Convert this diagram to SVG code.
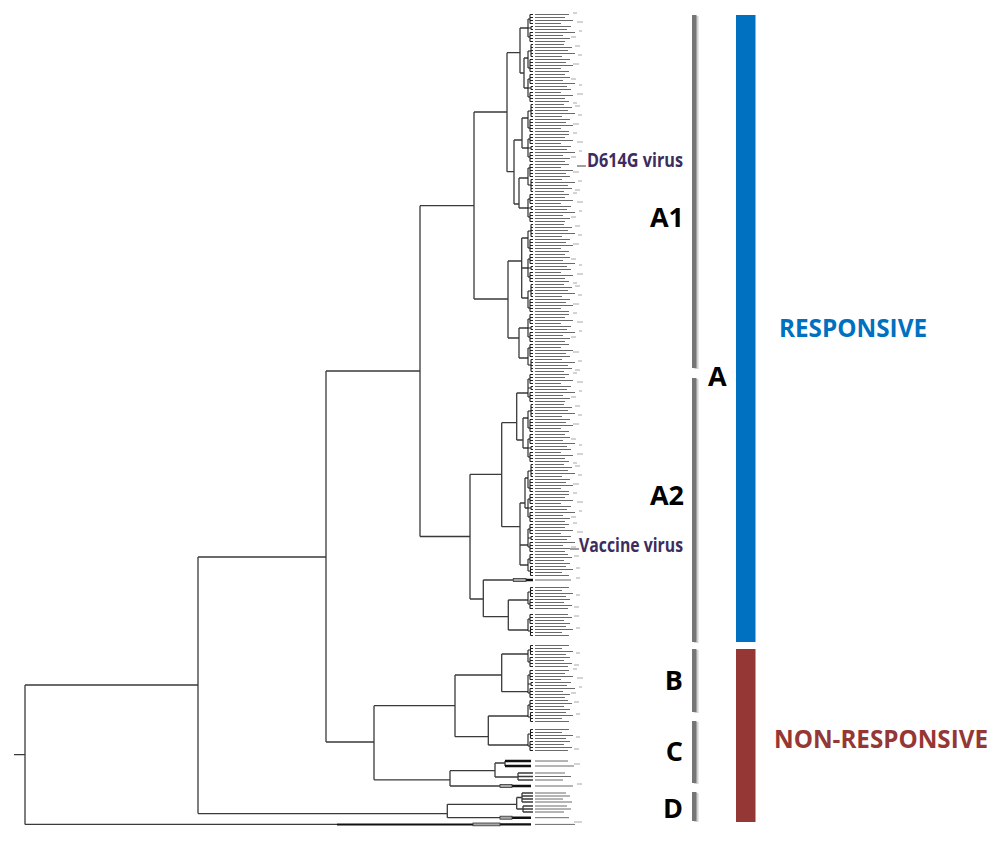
<svg xmlns="http://www.w3.org/2000/svg" width="1000" height="841" viewBox="0 0 1000 841">
<style>
.br{fill:none;stroke:#3a3a3a;stroke-width:1.3}
.tw{fill:none;stroke:#1e1e1e;stroke-width:1.1}
.lb{fill:none;stroke:#6a6a6a;stroke-width:1}
.ld{fill:none;stroke:#3e3e3e;stroke-width:1}
.tg{fill:none;stroke:#a8a8a8;stroke-width:1}
.thk{fill:none;stroke:#111;stroke-width:2.4}
.bx{fill:#a8a8a8;stroke:#333;stroke-width:0.8}
.gb{fill:#767676}
.sh{fill:#d2d2d2}
.lab{font-family:"Open Sans","Liberation Sans",sans-serif;font-weight:700;font-size:27px;fill:#000}
.vir{font-family:"Open Sans","Liberation Sans",sans-serif;font-weight:700;font-size:20px;fill:#3d2c5e}
.grp{font-family:"Open Sans","Liberation Sans",sans-serif;font-weight:700;font-size:25px}
</style>
<defs>
<g id="k10a">
<path class="tw" d="M-5,-9V9M-5,-9H-3M-3,-13.5V-4.5M-3,-13.5H0M-3,-10.5H0M-3,-7.5H0M-3,-4.5H0M-5,0H-2M-2,-1.5V1.5M-2,-1.5H0M-2,1.5H0M-5,9H-3M-3,4.5V13.5M-3,4.5H0M-3,7.5H0M-3,10.5H0M-3,13.5H0"/>
<path class="lb" d="M2,-13.5h34M2,-10.5h30M2,-7.5h38M2,-4.5h26M2,-1.5h36M2,1.5h32M2,4.5h40M2,7.5h28M2,10.5h35M2,13.5h30"/>
<path class="tg" d="M40,-15h4M44,-6h6M46,3h3M38,9h5"/>
</g>
<g id="k10b">
<path class="tw" d="M-5,-7V10M-5,-7H-2M-2,-13.5V-1.5M-2,-13.5H0M-2,-10.5H0M-2,-7.5H0M-2,-4.5H0M-2,-1.5H0M-5,10H-3M-3,1.5V13.5M-3,1.5H0M-3,4.5H0M-3,7.5H0M-3,10.5H0M-3,13.5H0"/>
<path class="lb" d="M2,-13.5h29M2,-10.5h37M2,-7.5h33M2,-4.5h40M2,-1.5h27M2,1.5h35M2,4.5h31M2,7.5h38M2,10.5h26M2,13.5h34"/>
<path class="tg" d="M42,-12h5M45,-3h4M40,6h6"/>
</g>
<g id="k8a">
<path class="tw" d="M-5,-6V6M-5,-6H-3M-3,-10.5V-1.5M-3,-10.5H0M-3,-7.5H0M-3,-4.5H0M-3,-1.5H0M-5,6H-2.5M-2.5,1.5V10.5M-2.5,1.5H0M-2.5,4.5H0M-2.5,7.5H0M-2.5,10.5H0"/>
<path class="lb" d="M2,-10.5h33M2,-7.5h37M2,-4.5h29M2,-1.5h35M2,1.5h31M2,4.5h38M2,7.5h27M2,10.5h34"/>
<path class="tg" d="M41,-9h5M43,3h4"/>
</g>
</defs>

<g id="connectors">
<path class="br" d="M14,754.6H25M25,685V824.4M25,685H198M198,557V813.6M198,557H326M326,371V742M326,371H420M420,205.7V536.5M420,205.7H474
M474,112V299M474,112H507M507,52.7V171.7M507,52.7H520M520,28V73M520,28H528M520,73H524M524,58V88M524,58H528M524,88H528
M507,171.7H514M514,140V204M514,140H522M522,118V148M522,118H528M522,148H528M514,204H519M519,178V208M519,178H528M519,208H528
M474,299H508M508,261V338M508,261H521.7M521.7,238V298M521.7,238H528M521.7,268H528M521.7,298H528M508,338H519M519,328V358M519,328H528M519,358H528
M420,536.5H470M470,474.3V599M470,474.3H501.7M501.7,422.7V526.7M501.7,422.7H516.7M516.7,393V440M516.7,393H528M516.7,440H523M523,418V448M523,418H528M523,448H528
M501.7,526.7H520M520,503V565M520,503H525M525,478V508M525,478H528M525,508H528M520,545H528M520,565H528
M470,599H483.3M483.3,580V616.7M483.3,580H513.3M483.3,616.7H508.3M508.3,600V630M508.3,600H528M508.3,630H528
M326,742H374M374,705.7V779.8M374,705.7H455M455,675V736.7M455,675H501.7M501.7,654V691.7M501.7,654H528M501.7,691.7H528
M455,736.7H488.3M488.3,716V745M488.3,716H528M488.3,745H528
M374,779.8H450M450,770.7V786M450,770.7H495M495,763V777M495,763H505M505,761V766M495,777H518M518,773V780M518,773H533M518,776.5H533M518,780H533M450,786H500
M198,813.6H447.3M447.3,804.3V817.7M447.3,804.3H516.7M516.7,797.5V809M516.7,797.5H522M522,793V802M522,793H533M522,796H533M522,799H533M522,802H533M516.7,809H523M523,806V812M523,806H533M523,809H533M523,812H533M447.3,817.7H500
M25,824.4H337"/>
<path class="thk" d="M526,580H533M505,761H531M505,766H531M512,786H531M512,817.7H531M500,824.4H531"/>
<path class="thk" style="stroke-width:2" d="M337,824.4H473"/>
<rect class="bx" x="513.3" y="578.5" width="12.7" height="3"/>
<rect class="bx" x="500" y="784.5" width="12" height="3"/>
<rect class="bx" x="500" y="816.2" width="12" height="3"/>
<rect class="bx" x="473" y="823" width="27" height="2.8"/>
<path class="lb" d="M535,580h36M535,761h33M535,766h39M535,773h30M535,776.5h36M535,780h28M535,786h38M535,793h31M535,796h35M535,799h28M535,802h37M535,806h32M535,809h36M535,812h29M535,817.7h34M535,824.4h40"/>
<path class="tg" d="M576,578h4M574,764h6M577,784h5M574,822h8"/>
<path class="ld" d="M577,166H586M570,549H579"/>
</g>

<g id="leaves">
<use href="#k10a" transform="translate(533,28)"/>
<use href="#k10b" transform="translate(533,58)"/>
<use href="#k10a" transform="translate(533,88) scale(1,-1)"/>
<use href="#k10b" transform="translate(533,118)"/>
<use href="#k10a" transform="translate(533,148)"/>
<use href="#k10b" transform="translate(533,178) scale(1,-1)"/>
<use href="#k10a" transform="translate(533,208)"/>
<use href="#k10b" transform="translate(533,238)"/>
<use href="#k10a" transform="translate(533,268) scale(1,-1)"/>
<use href="#k10b" transform="translate(533,298)"/>
<use href="#k10a" transform="translate(533,328)"/>
<use href="#k10b" transform="translate(533,358) scale(1,-1)"/>
<use href="#k10a" transform="translate(533,388)"/>
<use href="#k10b" transform="translate(533,418)"/>
<use href="#k10a" transform="translate(533,448) scale(1,-1)"/>
<use href="#k10b" transform="translate(533,478)"/>
<use href="#k10a" transform="translate(533,508)"/>
<use href="#k10a" transform="translate(533,538)"/>
<use href="#k8a" transform="translate(533,565)"/>
<use href="#k8a" transform="translate(533,598) scale(1,-1)"/>
<use href="#k8a" transform="translate(533,625)"/>
<use href="#k8a" transform="translate(533,656) scale(1,-1)"/>
<use href="#k10a" transform="translate(533,684)"/>
<use href="#k8a" transform="translate(533,711)"/>
<use href="#k8a" transform="translate(533,740) scale(1,-1)"/>
</g>

<g id="virus-labels">
<text class="vir" x="587" y="167" textLength="96" lengthAdjust="spacingAndGlyphs">D614G virus</text>
<text class="vir" x="579" y="552" textLength="104" lengthAdjust="spacingAndGlyphs">Vaccine virus</text>
</g>

<g id="clade-A1">
<rect class="sh" x="694" y="16" width="4.5" height="353"/>
<rect class="gb" x="692" y="15" width="4.5" height="353"/>
<text class="lab" x="684" y="227" text-anchor="end">A1</text>
</g>
<g id="clade-A2">
<rect class="sh" x="694" y="379" width="4.5" height="264"/>
<rect class="gb" x="692" y="378" width="4.5" height="264"/>
<text class="lab" x="684" y="505" text-anchor="end">A2</text>
</g>
<g id="clade-A">
<text class="lab" x="708" y="386">A</text>
</g>
<g id="clade-B">
<rect class="sh" x="694" y="650" width="4.5" height="63"/>
<rect class="gb" x="692" y="649" width="4.5" height="63"/>
<text class="lab" x="683" y="690" text-anchor="end">B</text>
</g>
<g id="clade-C">
<rect class="sh" x="694" y="722" width="4.5" height="62"/>
<rect class="gb" x="692" y="721" width="4.5" height="62"/>
<text class="lab" x="683" y="761" text-anchor="end">C</text>
</g>
<g id="clade-D">
<rect class="sh" x="694" y="793" width="4.5" height="29"/>
<rect class="gb" x="692" y="792" width="4.5" height="29"/>
<text class="lab" x="683" y="818" text-anchor="end">D</text>
</g>

<g id="responsive">
<rect x="736" y="15" width="19.5" height="627" fill="#0070c0"/>
<text class="grp" x="779" y="337" fill="#0070c0" textLength="148" lengthAdjust="spacingAndGlyphs">RESPONSIVE</text>
</g>
<g id="non-responsive">
<rect x="736" y="649" width="19.5" height="173" fill="#953735"/>
<text class="grp" x="774" y="748" fill="#953735" textLength="214" lengthAdjust="spacingAndGlyphs">NON-RESPONSIVE</text>
</g>
</svg>
